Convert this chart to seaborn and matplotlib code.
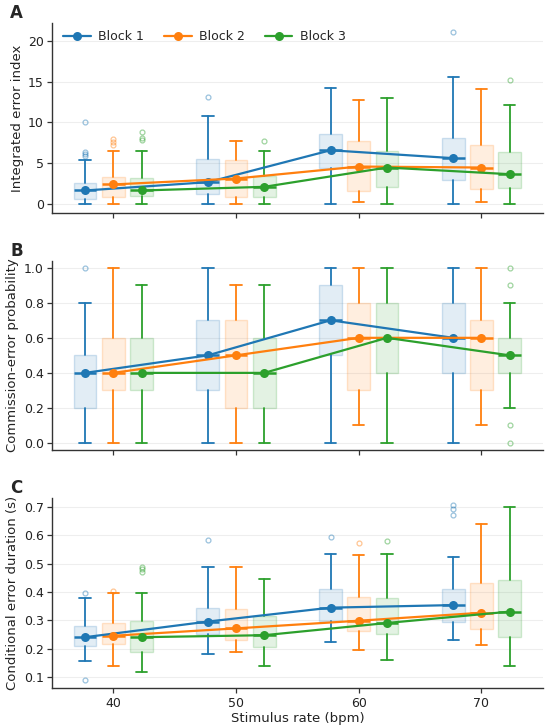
import numpy as np
import pandas as pd
import matplotlib
matplotlib.use("Agg")
import matplotlib.pyplot as plt
import seaborn as sns
from matplotlib.colors import to_rgba

# ---------------- data ----------------
rates = [40, 50, 60, 70]
blocks = ["Block 1", "Block 2", "Block 3"]
colors = ["#1f77b4", "#ff7f0e", "#2ca02c"]

# Panel A: Integrated error index  (per block: lists over rates)
A_q1 = [[0.60, 1.14, 4.40, 2.86], [0.86, 0.86, 1.55, 1.80], [0.93, 0.86, 2.04, 1.88]]
A_med = [[1.63, 2.65, 6.57, 5.60], [2.37, 3.10, 4.57, 4.45], [1.63, 2.08, 4.45, 3.63]]
A_q3 = [[2.57, 5.50, 8.60, 8.08], [3.30, 5.43, 7.76, 7.20], [3.18, 3.40, 6.45, 6.37]]
A_lo = [[0.0, 0.0, 0.0, 0.0], [0.0, 0.0, 0.24, 0.24], [0.0, 0.0, 0.0, 0.0]]
A_hi = [[5.35, 10.78, 14.16, 15.6], [6.53, 7.70, 12.8, 14.1], [6.45, 6.45, 13.0, 12.1]]
A_out = [[[10.0, 6.3, 6.1, 5.9], [13.1], [], [21.1]],
         [[7.9, 7.55, 7.2], [], [], []],
         [[8.8, 8.1, 7.8], [7.7], [], [15.2]]]

# Panel B: Commission-error probability
B_q1 = [[0.2, 0.3, 0.5, 0.4], [0.3, 0.2, 0.3, 0.3], [0.3, 0.2, 0.4, 0.4]]
B_med = [[0.4, 0.5, 0.7, 0.6], [0.4, 0.5, 0.6, 0.6], [0.4, 0.4, 0.6, 0.5]]
B_q3 = [[0.5, 0.7, 0.9, 0.8], [0.6, 0.7, 0.8, 0.7], [0.6, 0.6, 0.8, 0.6]]
B_lo = [[0.0, 0.0, 0.0, 0.0], [0.0, 0.0, 0.1, 0.1], [0.0, 0.0, 0.0, 0.2]]
B_hi = [[0.8, 1.0, 1.0, 1.0], [1.0, 0.9, 1.0, 1.0], [0.9, 0.9, 1.0, 0.8]]
B_out = [[[1.0], [], [], []],
         [[], [], [], []],
         [[], [], [], [1.0, 0.9, 0.1, 0.0]]]

# Panel C: Conditional error duration (s)
C_q1 = [[0.210, 0.251, 0.299, 0.295], [0.217, 0.231, 0.264, 0.269], [0.188, 0.205, 0.252, 0.243]]
C_med = [[0.241, 0.296, 0.345, 0.354], [0.246, 0.272, 0.299, 0.327], [0.241, 0.248, 0.291, 0.331]]
C_q3 = [[0.279, 0.344, 0.410, 0.410], [0.290, 0.340, 0.384, 0.433], [0.299, 0.317, 0.378, 0.442]]
C_lo = [[0.157, 0.182, 0.223, 0.230], [0.139, 0.189, 0.195, 0.214], [0.118, 0.140, 0.161, 0.139]]
C_hi = [[0.378, 0.487, 0.535, 0.525], [0.396, 0.489, 0.532, 0.639], [0.396, 0.447, 0.534, 0.699]]
C_out = [[[0.398, 0.092], [0.583], [0.593], [0.705, 0.692, 0.670]],
         [[0.403], [], [0.573], []],
         [[0.472, 0.480, 0.488], [], [0.580], []]]

panels = [
    ("A", "Integrated error index", A_q1, A_med, A_q3, A_lo, A_hi, A_out, (-1.1, 22.2), [0, 5, 10, 15, 20]),
    ("B", "Commission-error probability", B_q1, B_med, B_q3, B_lo, B_hi, B_out, (-0.04, 1.04), [0.0, 0.2, 0.4, 0.6, 0.8, 1.0]),
    ("C", "Conditional error duration (s)", C_q1, C_med, C_q3, C_lo, C_hi, C_out, (0.061, 0.73), [0.1, 0.2, 0.3, 0.4, 0.5, 0.6, 0.7]),
]

offsets = [-2.3, 0.0, 2.3]
box_w = 1.85

# ---------------- plot ----------------
sns.set_theme(style="white")
plt.rcParams["font.family"] = ["DejaVu Sans"]

fig = plt.figure(figsize=(5.5, 7.27), dpi=100)
axes_rect = [(0.0945, 0.7074, 0.8925, 0.261),
             (0.0945, 0.381, 0.8925, 0.2604),
             (0.0945, 0.0532, 0.8925, 0.2614)]
axes = [fig.add_axes(r) for r in axes_rect]

for ax, (letter, ylabel, q1, med, q3, lo, hi, out, ylim, yticks) in zip(axes, panels):
    rows = []
    for b in range(3):
        c = colors[b]
        stats = []
        pos = []
        for i, r in enumerate(rates):
            stats.append(dict(med=med[b][i], q1=q1[b][i], q3=q3[b][i],
                              whislo=lo[b][i], whishi=hi[b][i], fliers=out[b][i]))
            pos.append(r + offsets[b])
            rows.append(dict(x=r + offsets[b], y=med[b][i], Block=blocks[b]))
        ax.bxp(stats, positions=pos, widths=box_w, patch_artist=True, manage_ticks=False,
               boxprops=dict(facecolor=to_rgba(c, 0.13), edgecolor=to_rgba(c, 0.2), linewidth=1.0),
               whiskerprops=dict(color=c, linewidth=1.3),
               capprops=dict(color=c, linewidth=1.3),
               medianprops=dict(color=c, linewidth=1.8),
               flierprops=dict(marker="o", markersize=3.5, markerfacecolor="none",
                               markeredgecolor=to_rgba(c, 0.45), markeredgewidth=0.9))
    df = pd.DataFrame(rows)
    sns.lineplot(data=df, x="x", y="y", hue="Block", palette=colors, marker="o",
                 markersize=6.5, markeredgewidth=0, linewidth=1.6, ax=ax,
                 legend=(letter == "A"), zorder=5, sort=True)
    ax.set_xlim(35, 75)
    ax.set_ylim(*ylim)
    ax.set_yticks(yticks)
    ax.set_xticks(rates)
    ax.grid(axis="y", color="#eeeeee", linewidth=0.8)
    ax.set_axisbelow(True)
    for s in ["top", "right"]:
        ax.spines[s].set_visible(False)
    for s in ["left", "bottom"]:
        ax.spines[s].set_color("#333333")
        ax.spines[s].set_linewidth(1.0)
    ax.tick_params(axis="both", labelsize=9, length=3.5, width=0.9, color="#333333",
                   labelcolor="#222222", left=True, bottom=True, pad=2.5)
    ax.set_ylabel(ylabel, fontsize=9.5, color="#222222", labelpad=3)
    if letter == "C":
        ax.set_xlabel("Stimulus rate (bpm)", fontsize=9.5, color="#222222", labelpad=1.5)
    else:
        ax.set_xlabel("")
        ax.set_xticklabels([])
    if letter == "B":
        ax.set_yticklabels([f"{v:.1f}" for v in yticks])
    ax.text(-0.085, 1.1, letter, transform=ax.transAxes, fontsize=12,
            fontweight="bold", va="top", ha="left")

leg = axes[0].get_legend()
if leg is not None:
    leg.remove()
handles, labels = axes[0].get_legend_handles_labels()
axes[0].legend(handles, labels, loc="upper left", ncol=3, frameon=False, fontsize=9,
               bbox_to_anchor=(0.0, 1.02), handlelength=2.2, columnspacing=1.6,
               handletextpad=0.6)

fig.savefig("out.png", dpi=100)
